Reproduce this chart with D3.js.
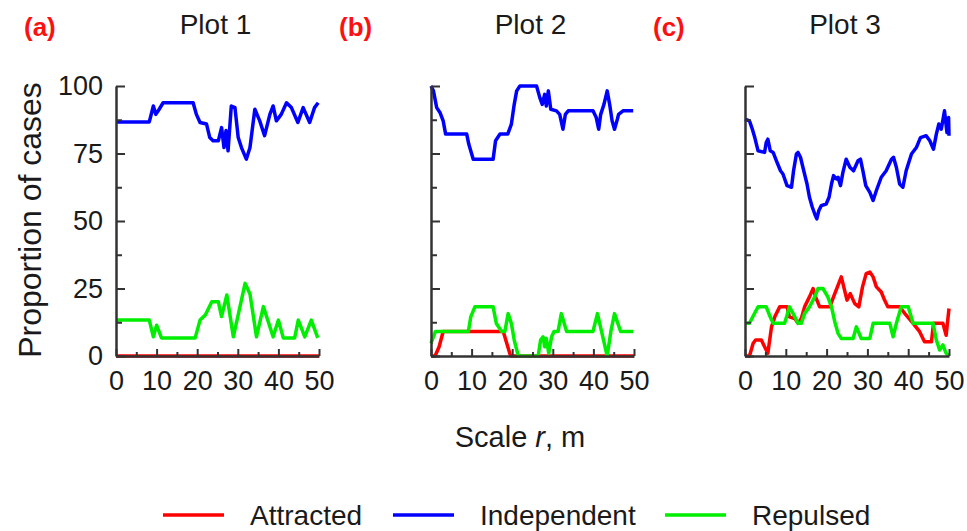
<!DOCTYPE html>
<html>
<head>
<meta charset="utf-8">
<title>Proportion of cases by scale</title>
<script src="https://d3js.org/d3.v7.min.js"></script>
<style>
  body { margin: 0; background: #fff; }
  text { font-family: "Liberation Sans", Arial, sans-serif; fill: #1a1a1a; }
</style>
</head>
<body>
<svg id="chart" width="967" height="531"></svg>
<script>
// data: [r, proportion %]
var panelTitles = ["Plot 1", "Plot 2", "Plot 3"];
var panelTags = ["(a)", "(b)", "(c)"];
var seriesNames = ["Attracted", "Independent", "Repulsed"];
var seriesColors = ["#ff0000", "#0000ff", "#00ee00"];
var xTicks = [0, 10, 20, 30, 40, 50];
var yTicks = [0, 25, 50, 75, 100];

var p1Attracted = [[0,0],[50,0]];
var p1Independent = [[0,86.7],[8.2,86.7],[9.2,92.6],[9.8,89.5],[10.4,90.8],[11.6,93.8],[19.0,93.8],[19.8,89.5],
  [20.7,86.5],[22.3,85.9],[23.1,80.9],[23.9,79.7],[25.2,79.7],[26.0,84.6],[26.6,77.2],[27.1,83.5],[27.6,76],
  [28.4,92.6],[29.3,92],[30.1,80.9],[30.9,77.2],[32.1,72.9],[33.0,77.2],[34.2,91.4],[35.4,87.1],[36.6,81.6],
  [37.9,89.5],[38.7,92.6],[39.5,87.1],[40.7,89.5],[42.0,93.8],[43.2,92],[44.8,86.5],[46.1,92],[47.7,86.5],
  [48.9,92],[49.8,93.8]];
var p1Repulsed = [[0,13.3],[8.2,13.3],[9.2,7.1],[10.0,11.4],[11.2,6.7],[19.5,6.7],[20.7,13.3],[22.0,15.2],
  [23.6,20.1],[25.2,20.1],[26.0,14.6],[27.3,22.6],[28.9,7.1],[31.8,26.9],[33.0,23],[34.6,7.1],[36.3,18.3],
  [38.7,7.1],[40.0,13.3],[41.2,6.7],[44.0,6.7],[44.9,13.3],[46.5,7.1],[48.1,13.3],[49.7,6.7]];

var p2Attracted = [[0,0],[1.0,0],[2.0,3.4],[3.0,9.1],[17.8,9.1],[18.6,5],[19.6,0],[50,0]];
var p2Independent = [[0,100],[0.6,98.2],[1.4,92],[2.2,90.2],[3.0,87.1],[3.6,82.2],[8.8,82.2],[9.3,78.5],
  [10.4,72.9],[15.3,72.9],[15.9,79.7],[17.0,82.2],[18.9,82.2],[19.8,85.9],[20.5,93.2],[21.1,98.2],[21.9,100],
  [26.0,100],[26.8,95.7],[27.4,93.2],[28.0,96.9],[28.4,92.6],[28.9,98.2],[29.5,91.4],[30.9,90.8],[31.7,89.5],
  [32.5,84],[33.1,89.5],[33.8,90.8],[39.9,90.8],[40.7,88.3],[41.3,84],[41.8,89.5],[42.6,93.2],[43.4,98.2],
  [44.0,93.2],[44.6,87.1],[45.2,84],[45.9,87.7],[46.2,89.5],[47.3,90.8],[49.8,90.8]];
var p2Repulsed = [[0,4.7],[1.1,9.1],[9.2,9.1],[9.8,14.5],[10.8,18.2],[15.3,18.2],[16.1,12],[17.4,9.1],
  [18.2,9.1],[19.0,15.7],[19.8,12],[20.5,5.9],[21.5,0],[26.4,0],[27.0,5.9],[27.6,7.1],[28.0,3.4],[28.4,6.5],
  [29.0,1],[29.7,7.1],[30.3,9.1],[31.3,9.1],[32.1,15.7],[33.4,9.1],[39.9,9.1],[41.0,15.7],[42.0,9.1],
  [43.4,0],[44.3,9.1],[45.2,15.7],[46.7,9.1],[49.8,9.1]];

var p3Attracted = [[0,0],[1.1,0],[2.0,4.7],[2.6,5.9],[4.0,5.9],[4.8,3.4],[5.6,1],[6.5,10.8],[7.3,14.5],
  [8.5,18.2],[10.3,18.2],[10.9,14.5],[12.2,13.9],[13.0,12.1],[13.8,13.9],[14.6,18.2],[15.8,21.9],[16.7,25],
  [17.3,21.9],[18.3,18.2],[20.8,18.2],[21.7,21.9],[23.6,29.3],[24.4,24.4],[25.0,20.7],[25.8,23.1],[26.9,19.4],
  [27.9,18.2],[28.8,25.6],[29.7,30.5],[30.6,31.1],[31.4,29.3],[32.2,25.6],[33.4,23.7],[34.2,20.7],[35.0,18.2],
  [37.9,18.2],[39.5,15.1],[41.2,12.1],[42.8,9],[44.0,5.3],[45.7,5.3],[46.2,12.1],[48.5,12.1],[49.3,7.7],
  [50,17.6]];
var p3Independent = [[0,87.7],[1.1,87.1],[1.8,84],[2.4,80.9],[3.2,76],[4.8,75.4],[5.2,79.1],[5.6,80.3],
  [6.2,76],[6.9,75.4],[7.7,72.3],[8.7,68.6],[9.3,67.4],[10.3,63.1],[11.4,62.5],[11.9,68.6],[12.6,74.8],
  [13.0,75.4],[13.6,73.6],[14.4,68.6],[15.2,63.7],[15.8,58.8],[16.5,55.1],[17.1,52.6],[17.6,50.8],[18.1,53.9],
  [18.7,55.7],[19.9,56.3],[20.6,58.8],[21.2,63.7],[21.7,66.8],[22.4,65.6],[22.8,66.2],[23.4,63.1],[24.0,68],
  [24.8,72.9],[25.7,69.9],[26.6,68.6],[27.7,72.3],[28.3,72.9],[28.9,68.6],[29.6,63.1],[30.6,60.6],[31.4,57.6],
  [32.2,61.3],[33.4,66.2],[34.6,68.6],[35.9,72.9],[36.4,73.6],[37.1,69.9],[37.9,63.7],[38.7,62.5],[39.5,68.6],
  [40.8,74.8],[42.0,77.2],[43.0,80.9],[44.4,81.6],[45.3,79.7],[46.2,76.6],[46.9,82.2],[47.5,85.9],[48.1,84],
  [48.9,90.8],[49.5,82.8],[49.9,88.3],[50,81.6]];
var p3Repulsed = [[0,12.1],[1.1,12.1],[2.1,15.1],[3.2,18.2],[5.2,18.2],[6.0,15.1],[6.9,12.1],[9.7,12.1],
  [10.3,15.1],[10.9,18.2],[11.8,15.7],[13.0,12.1],[13.8,12.1],[14.6,15.7],[15.8,18.2],[17.1,21.9],[17.9,25],
  [19.1,25],[20.3,21.9],[21.2,18.2],[22.0,12.7],[22.8,8.4],[23.6,6.5],[26.5,6.5],[27.3,10.8],[28.5,6.5],
  [30.6,6.5],[31.4,12.1],[35.5,12.1],[36.3,7.1],[37.1,12.1],[38.3,18.2],[40.0,18.2],[41.2,12.1],[46.1,12.1],
  [46.9,5.9],[47.7,2.2],[48.5,4.1],[49.3,1],[50,0]];

var panelSeries = [
  [p1Attracted, p1Independent, p1Repulsed],
  [p2Attracted, p2Independent, p2Repulsed],
  [p3Attracted, p3Independent, p3Repulsed]
];

var svg = d3.select("#chart");
var panelX = [[116, 319], [431, 634], [745, 949]];
var plotTop = 86, plotBottom = 356;

var y = d3.scaleLinear().domain([0, 100]).range([plotBottom, plotTop]);

panelSeries.forEach(function(series, i) {
  var x = d3.scaleLinear().domain([0, 50]).range(panelX[i]);
  var g = svg.append("g");

  // lines first, axes drawn over them
  var line = d3.line()
    .x(function(d) { return x(d[0]); })
    .y(function(d) { return y(d[1]); });

  series.forEach(function(s, k) {
    g.append("path")
      .datum(s)
      .attr("d", line)
      .attr("fill", "none")
      .attr("stroke", seriesColors[k])
      .attr("stroke-width", 3.5)
      .attr("stroke-linejoin", "round");
  });

  // minor ticks
  g.append("g")
    .attr("transform", "translate(" + panelX[i][0] + ",0)")
    .call(d3.axisLeft(y).tickValues([12.5, 37.5, 62.5, 87.5]).tickSize(-6).tickFormat(""))
    .call(function(a) { a.select(".domain").remove(); });
  g.append("g")
    .attr("transform", "translate(0," + plotBottom + ")")
    .call(d3.axisBottom(x).tickValues([5, 15, 25, 35, 45]).tickSize(-4).tickFormat(""))
    .call(function(a) { a.select(".domain").remove(); });

  g.append("g")
    .attr("transform", "translate(" + panelX[i][0] + ",0)")
    .call(d3.axisLeft(y).tickValues(yTicks).tickSize(-9).tickPadding(13).tickSizeOuter(0)
      .tickFormat(i == 0 ? d3.format("d") : ""));
  g.append("g")
    .attr("transform", "translate(0," + plotBottom + ")")
    .call(d3.axisBottom(x).tickValues(xTicks).tickSize(-7).tickPadding(15).tickSizeOuter(0));

  g.selectAll(".tick line").attr("stroke", "#333").attr("stroke-width", 2);
  g.selectAll(".domain").attr("stroke", "#333").attr("stroke-width", 2.5);
  g.selectAll(".tick text").attr("font-size", 27).attr("fill", "#1a1a1a")
    .attr("font-family", "Liberation Sans, Arial, sans-serif");

  var cx = (panelX[i][0] + panelX[i][1]) / 2;
  svg.append("text")
    .attr("x", cx - 2).attr("y", 34)
    .attr("text-anchor", "middle")
    .attr("font-size", 28)
    .text(panelTitles[i]);
  svg.append("text")
    .attr("x", panelX[i][0] - 92).attr("y", 36)
    .attr("font-size", 26)
    .attr("font-weight", "bold")
    .style("fill", "#ff1010")
    .text(panelTags[i]);
});

svg.append("text")
  .attr("transform", "translate(41,220) rotate(-90)")
  .attr("text-anchor", "middle")
  .attr("font-size", 32)
  .text("Proportion of cases");

var xl = svg.append("text")
  .attr("x", 520).attr("y", 447)
  .attr("text-anchor", "middle")
  .attr("font-size", 29);
xl.append("tspan").text("Scale ");
xl.append("tspan").attr("font-style", "italic").text("r");
xl.append("tspan").text(", m");

// legend
var legendX = [163, 393, 665];
seriesNames.forEach(function(name, k) {
  var lg = svg.append("g").attr("transform", "translate(" + legendX[k] + ",515)");
  lg.append("line").attr("x1", 0).attr("x2", 61)
    .attr("stroke", seriesColors[k]).attr("stroke-width", 3.5);
  lg.append("text").attr("x", 87).attr("y", 10)
    .attr("font-size", 28)
    .text(name);
});
</script>
</body>
</html>
